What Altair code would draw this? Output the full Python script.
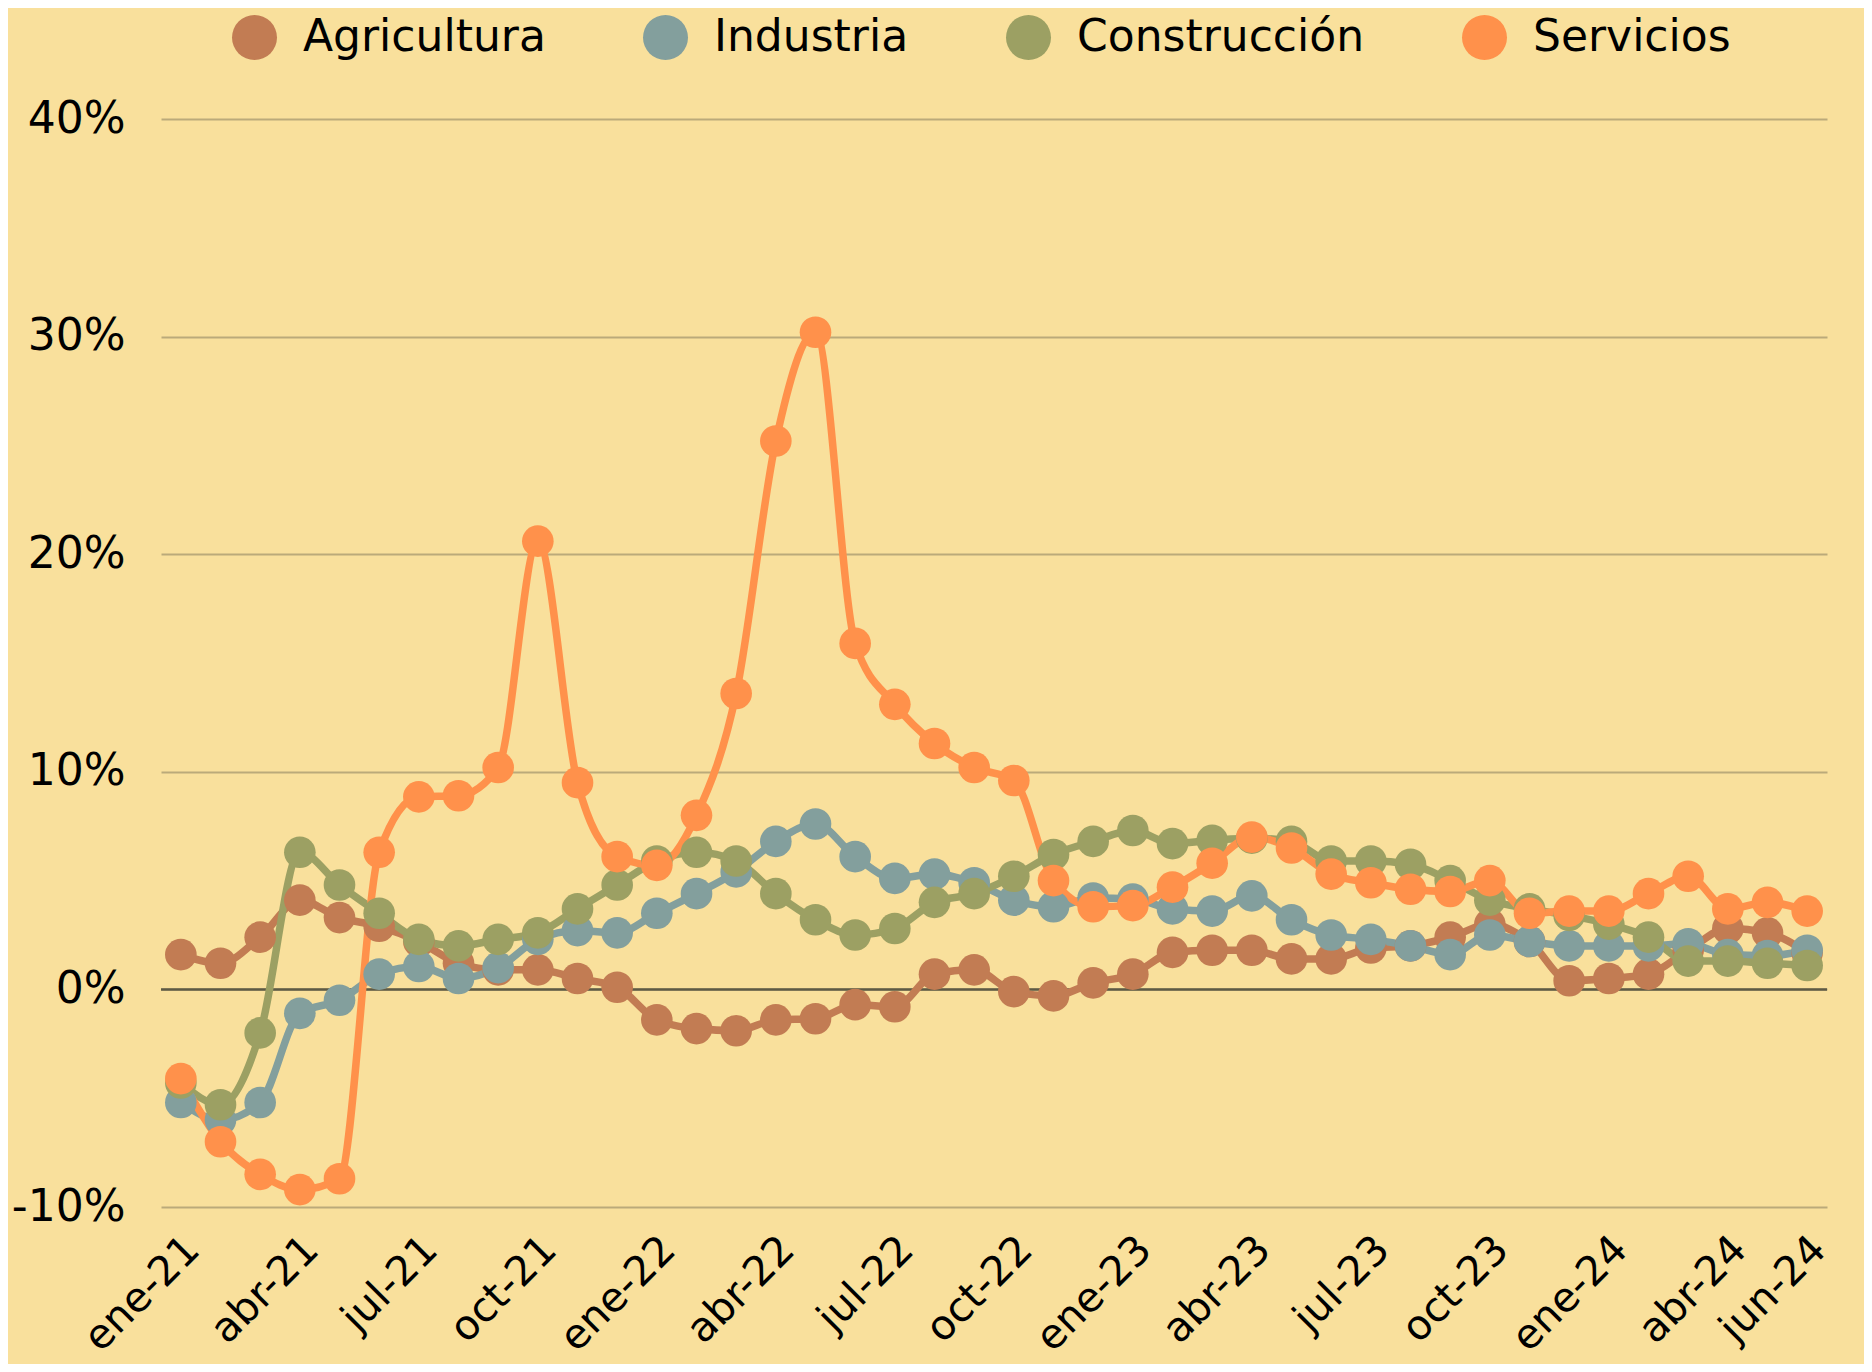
import altair as alt
import pandas as pd

meses = [
    "ene-21", "feb-21", "mar-21", "abr-21", "may-21", "jun-21", "jul-21", "ago-21", "sep-21", "oct-21", "nov-21", "dic-21",
    "ene-22", "feb-22", "mar-22", "abr-22", "may-22", "jun-22", "jul-22", "ago-22", "sep-22", "oct-22", "nov-22", "dic-22",
    "ene-23", "feb-23", "mar-23", "abr-23", "may-23", "jun-23", "jul-23", "ago-23", "sep-23", "oct-23", "nov-23", "dic-23",
    "ene-24", "feb-24", "mar-24", "abr-24", "may-24", "jun-24",
]
etiquetas_x = ["ene-21", "abr-21", "jul-21", "oct-21", "ene-22", "abr-22", "jul-22", "oct-22",
               "ene-23", "abr-23", "jul-23", "oct-23", "ene-24", "abr-24", "jun-24"]
valores_y = [-10, 0, 10, 20, 30, 40]

agricultura = [1.6, 1.2, 2.4, 4.1, 3.3, 2.9, 2.2, 1.2, 0.9, 0.9, 0.5, 0.1,
               -1.4, -1.8, -1.9, -1.4, -1.35, -0.7, -0.8, 0.7, 0.9, -0.1, -0.3, 0.3,
               0.7, 1.7, 1.8, 1.8, 1.4, 1.4, 1.9, 2.0, 2.4, 3.0, 2.2, 0.4,
               0.5, 0.7, 1.8, 2.8, 2.6, 1.7]
industria = [-5.2, -6.0, -5.2, -1.1, -0.5, 0.7, 1.05, 0.5, 1.0, 2.3, 2.7, 2.6,
             3.5, 4.4, 5.4, 6.8, 7.6, 6.1, 5.1, 5.3, 4.9, 4.1, 3.8, 4.2,
             4.15, 3.7, 3.6, 4.3, 3.2, 2.5, 2.3, 2.0, 1.6, 2.5, 2.2, 2.0,
             2.0, 2.0, 2.1, 1.6, 1.55, 1.8]
construccion = [-4.3, -5.3, -2.0, 6.3, 4.8, 3.5, 2.3, 2.0, 2.3, 2.6, 3.7, 4.8,
                5.9, 6.3, 5.9, 4.4, 3.2, 2.5, 2.8, 4.0, 4.4, 5.2, 6.2, 6.8,
                7.3, 6.7, 6.85, 6.95, 6.8, 5.9, 5.9, 5.75, 5.0, 4.1, 3.7, 3.4,
                3.0, 2.4, 1.3, 1.3, 1.2, 1.1]
servicios = [-4.1, -7.0, -8.5, -9.2, -8.7, 6.3, 8.85, 8.9, 10.2, 20.6, 9.5, 6.1,
             5.7, 8.0, 13.6, 25.2, 30.2, 15.9, 13.1, 11.3, 10.2, 9.6, 5.0, 3.8,
             3.85, 4.7, 5.8, 7.0, 6.5, 5.3, 4.9, 4.6, 4.5, 5.0, 3.5, 3.6,
             3.6, 4.4, 5.2, 3.7, 4.0, 3.6]

series = ["Agricultura", "Industria", "Construcción", "Servicios"]
colores = ["#C27C53", "#839F9D", "#9CA063", "#FF914B"]

rows = []
for s, vals in zip(series, [agricultura, industria, construccion, servicios]):
    for m, v in zip(meses, vals):
        rows.append({"mes": m, "serie": s, "valor": v})
df = pd.DataFrame(rows)

FONT = "DejaVu Sans"
BG = "#F9E09C"

x_enc = alt.X(
    "mes:N",
    sort=meses,
    scale=alt.Scale(type="point", padding=0.5),
    axis=alt.Axis(
        values=etiquetas_x, title=None, domain=False, ticks=False, grid=False,
        labelAngle=315, labelAlign="right", labelBaseline="middle",
        labelFont=FONT, labelFontSize=41, labelColor="#000000", labelPadding=36,
        labelOffset=12, labelOverlap=False,
    ),
)
y_enc = alt.Y(
    "valor:Q",
    scale=alt.Scale(domain=[-10, 40], nice=False, zero=False),
    axis=alt.Axis(
        values=valores_y, title=None, domain=False, ticks=False, grid=True,
        gridColor="#BBAA7A", gridWidth=2,
        labelExpr="datum.value + '%'", labelFont=FONT, labelFontSize=44,
        labelColor="#000000", labelPadding=36,
    ),
)
color_scale = alt.Scale(domain=series, range=colores)

lineas = alt.Chart(df).mark_line(interpolate="monotone", strokeWidth=7.5).encode(
    x=x_enc, y=y_enc,
    color=alt.Color("serie:N", scale=color_scale, legend=None),
    detail="serie:N",
)

puntos = alt.Chart(df).mark_circle(size=1000, opacity=1).encode(
    x=x_enc, y=y_enc,
    color=alt.Color(
        "serie:N", scale=color_scale,
        legend=alt.Legend(
            title=None, orient="none", legendX=71, legendY=-104, direction="horizontal",
            symbolType="circle", symbolSize=2025, symbolStrokeWidth=0, symbolOpacity=1,
            labelFont=FONT, labelFontSize=44, labelColor="#000000", labelOffset=26,
            columnPadding=97, padding=0, labelLimit=600,
        ),
    ),
)

cero = alt.Chart(pd.DataFrame({"y": [0]})).mark_rule(color="#5E5A44", strokeWidth=2.5).encode(
    y=alt.Y("y:Q", scale=alt.Scale(domain=[-10, 40], nice=False, zero=False))
)

chart = alt.layer(cero, lineas, puntos).resolve_legend(color="independent").properties(
    width=1666, height=1088,
    background=BG,
    autosize=alt.AutoSizeParams(type="none"),
    padding={"left": 153, "top": 111, "right": 37, "bottom": 157},
).configure_view(stroke=None)

chart.save("out.html", embed_options={"renderer": "svg", "actions": False})
